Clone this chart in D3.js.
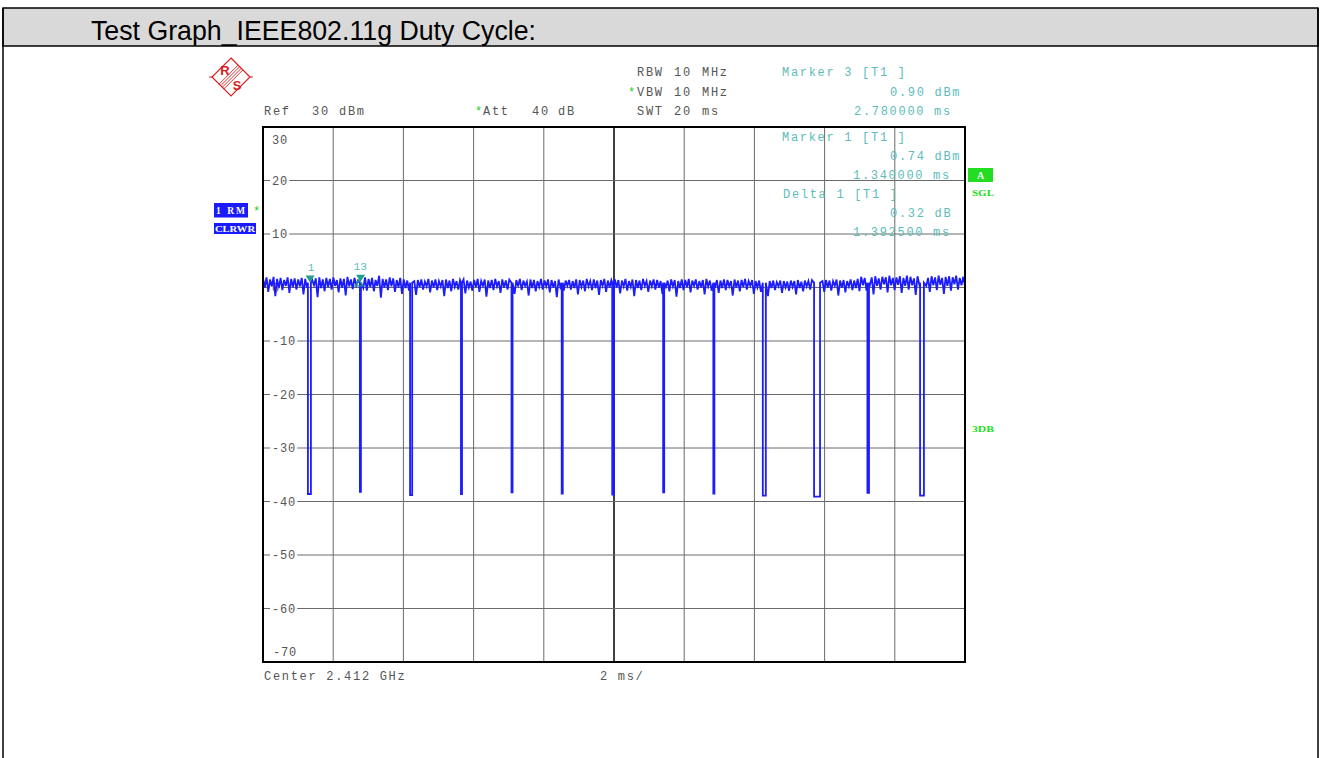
<!DOCTYPE html>
<html>
<head>
<meta charset="utf-8">
<script src="https://d3js.org/d3.v7.min.js"></script>
<style>
body { margin: 0; background: #fff; }
text { white-space: pre; }
</style>
</head>
<body>
<script>
// values (time in ms, level in dBm)
var yGridVals = [20, 10, 0, -10, -20, -30, -40, -50, -60];
var yGridLabels = ["20", "10", "0", "-10", "-20", "-30", "-40", "-50", "-60"];
var xGridVals = [2, 4, 6, 8, 10, 12, 14, 16, 18];

// burst gaps (dips) of the duty cycle trace
var dipStart = [1.28, 2.76, 4.19, 5.64, 7.08, 8.51, 9.95, 11.40, 12.83, 14.24, 15.70, 17.22, 18.72];
var dipWidth = [0.085, 0.03, 0.06, 0.03, 0.03, 0.03, 0.05, 0.03, 0.03, 0.085, 0.17, 0.045, 0.11];
var dipBottom = [-38.6, -38.2, -38.8, -38.6, -38.3, -38.5, -38.7, -38.3, -38.5, -38.9, -39.1, -38.4, -38.9];

// on-burst level, sampled across the 20 ms sweep (20 samples per ms)
var noise = [
  1.7,0.0,1.9,-0.8,1.5,0.2,2.0,-1.6,1.6,-0.1,1.8,-0.5,1.4,0.3,1.9,-1.0,1.6,0.1,1.7,-0.4,
  1.5,0.2,1.8,-1.3,1.6,0.0,2.1,-0.6,1.4,0.4,1.7,-1.8,1.9,-0.1,1.5,-0.7,1.8,0.1,1.6,-0.4,
  1.9,0.3,1.4,-0.9,1.7,0.0,1.6,-1.5,2.0,0.2,1.5,-0.3,1.8,0.4,1.3,-1.1,1.7,-0.1,1.9,-0.6,
  1.6,0.1,1.8,-0.7,1.4,0.3,2.2,-1.9,1.6,0.0,1.5,-0.5,1.9,0.2,1.7,-0.8,1.4,0.0,1.8,-1.2,
  1.5,-0.1,1.3,-0.6,1.6,0.3,1.2,-1.4,1.4,0.1,1.5,-0.4,1.1,0.2,1.6,-0.9,1.3,0.0,1.5,-0.5,
  1.2,0.2,1.4,-1.6,1.5,-0.1,1.3,-0.7,1.6,0.1,1.2,-0.4,1.4,0.3,1.5,-1.1,1.3,0.0,1.1,-0.6,
  1.4,0.1,1.6,-0.8,1.2,0.3,1.5,-1.7,1.3,-0.1,1.4,-0.5,1.6,0.2,1.2,-1.0,1.5,0.0,1.3,-0.4,
  1.5,0.0,1.2,-1.2,1.4,0.2,1.6,-0.5,1.3,0.3,1.1,-1.5,1.5,-0.1,1.4,-0.7,1.2,0.1,1.6,-0.4,
  1.3,0.2,1.5,-0.9,1.4,0.0,1.2,-1.8,1.5,0.1,1.6,-0.6,1.3,0.3,1.4,-0.4,1.2,-0.1,1.5,-1.3,
  1.4,0.1,1.3,-0.7,1.6,0.2,1.2,-0.5,1.5,-0.1,1.3,-1.4,1.4,0.3,1.6,-0.8,1.3,0.0,1.4,-0.4,
  1.5,0.0,1.4,-1.1,1.3,0.2,1.6,-0.6,1.2,0.1,1.5,-1.6,1.4,-0.1,1.3,-0.5,1.6,0.3,1.2,-0.8,
  1.3,0.2,1.5,-0.4,1.4,0.0,1.2,-1.2,1.6,0.1,1.3,-0.7,1.5,0.2,1.4,-1.7,1.2,-0.1,1.5,-0.5,
  1.4,0.1,1.6,-0.9,1.3,0.3,1.5,-0.4,1.2,0.0,1.4,-1.3,1.6,0.2,1.3,-0.6,1.5,0.0,1.4,-1.0,
  1.3,-0.1,1.5,-0.5,1.4,0.2,1.2,-1.5,1.5,0.0,1.3,-0.7,1.4,0.1,1.6,-0.4,1.2,0.3,1.4,-1.2,
  1.2,0.0,1.3,-0.8,1.1,0.1,1.4,-1.6,1.2,-0.1,1.3,-0.5,1.0,0.2,1.3,-1.0,1.2,0.0,1.1,-0.6,
  1.3,0.1,1.2,-1.3,1.4,-0.1,1.1,-0.7,1.3,0.2,1.2,-0.4,1.4,0.0,1.1,-1.4,1.3,0.1,1.2,-0.8,
  1.4,0.0,1.3,-0.6,1.2,0.3,1.5,-1.5,1.3,0.0,1.4,-0.9,1.2,0.2,1.5,-0.5,1.3,-0.1,1.6,-0.7,
  2.0,0.4,1.8,-0.6,2.2,0.5,1.9,-1.3,2.1,0.3,1.7,-0.4,2.0,0.6,1.9,-0.9,2.2,0.4,1.8,-0.5,
  1.9,0.5,2.1,-1.0,1.8,0.3,2.2,-0.4,2.0,0.4,1.7,-1.4,2.1,0.6,1.9,-0.6,2.0,0.3,1.8,-0.8,
  2.1,0.4,1.9,-0.5,2.2,0.5,1.8,-1.2,2.0,0.3,2.1,-0.6,1.9,0.6,2.2,-0.4,1.8,0.4,2.0,0.2
];

// markers
var markerNames = ["1", "3"];
var markerTime = [1.34, 2.78];
var markerLevel = [0.74, 0.90];
var deltaTime = 2.7325;
var deltaLevel = 1.06;

var width = 1322, height = 758;
var svg = d3.select("body").append("svg")
  .attr("width", width)
  .attr("height", height);

var mono = "'Liberation Mono', 'DejaVu Sans Mono', monospace";
var pitch = 8.9;

// monospaced analyzer text, spread to the measured character pitch
function monoText(x, y, str, color) {
  return svg.append("text")
    .attr("x", x).attr("y", y)
    .attr("font-family", mono)
    .attr("font-size", 12)
    .attr("fill", color)
    .attr("textLength", (str.length - 1) * pitch + 7.2)
    .attr("lengthAdjust", "spacing")
    .text(str);
}

// outer table frame + title band
svg.append("rect")
  .attr("x", 3).attr("y", 8).attr("width", 1315).attr("height", 38)
  .attr("fill", "#d9d9d9").attr("stroke", "#000").attr("stroke-width", 1.5);
svg.append("line").attr("x1", 3).attr("x2", 3).attr("y1", 8).attr("y2", height)
  .attr("stroke", "#000").attr("stroke-width", 1.5);
svg.append("line").attr("x1", 1318).attr("x2", 1318).attr("y1", 8).attr("y2", height)
  .attr("stroke", "#000").attr("stroke-width", 1.5);
svg.append("text")
  .attr("x", 91).attr("y", 40)
  .attr("font-family", "'Liberation Sans', Arial, sans-serif")
  .attr("font-size", 27)
  .attr("fill", "#000")
  .attr("textLength", 445)
  .attr("lengthAdjust", "spacingAndGlyphs")
  .text("Test Graph_IEEE802.11g Duty Cycle:");

// scales
var x = d3.scaleLinear().domain([0, 20]).range([263, 965]);
var y = d3.scaleLinear().domain([-70, 30]).range([662, 127]);

// R&S logo
var red = "#d42020";
var logo = svg.append("g").attr("transform", "translate(231,77)").attr("stroke", red).attr("fill", "none");
logo.append("path").attr("d", "M0,-19 L19,0 L0,19 L-19,0 Z").attr("stroke-width", 1.2);
logo.append("path").attr("d", "M-22,0 L-19,0 M19,0 L22,0").attr("stroke-width", 1.2);
[-2.4, -0.8, 0.8, 2.4].forEach(function(o) {
  logo.append("line")
    .attr("x1", 9.5 + o).attr("y1", -9.5 + o)
    .attr("x2", -9.5 + o).attr("y2", 9.5 + o)
    .attr("stroke-width", 0.9);
});
logo.append("text").attr("x", -6).attr("y", -2).attr("text-anchor", "middle")
  .attr("font-family", "'Liberation Sans', sans-serif").attr("font-weight", "bold")
  .attr("font-size", 13).attr("fill", red).attr("stroke", "none").text("R");
logo.append("text").attr("x", 6).attr("y", 13).attr("text-anchor", "middle")
  .attr("font-family", "'Liberation Sans', sans-serif").attr("font-weight", "bold")
  .attr("font-size", 13).attr("fill", red).attr("stroke", "none").text("S");

// settings text
var gray = "#555";
var green = "#22cc22";
var teal = "#5cbcbc";
monoText(637, 76, "RBW", gray);
monoText(674, 76, "10", gray);
monoText(702, 76, "MHz", gray);
monoText(628, 96, "*", green);
monoText(637, 96, "VBW", gray);
monoText(674, 96, "10", gray);
monoText(702, 96, "MHz", gray);
monoText(637, 115, "SWT", gray);
monoText(674, 115, "20", gray);
monoText(702, 115, "ms", gray);
monoText(264, 115, "Ref", gray);
monoText(312, 115, "30", gray);
monoText(339, 115, "dBm", gray);
monoText(475, 115, "*", green);
monoText(483, 115, "Att", gray);
monoText(532, 115, "40", gray);
monoText(558, 115, "dB", gray);
monoText(264, 680, "Center 2.412 GHz", gray);
monoText(600, 680, "2 ms/", gray);

// grid
var grid = svg.append("g").attr("stroke", "#6a6a6a").attr("stroke-width", 1);
grid.selectAll("line.v")
  .data(xGridVals)
  .enter().append("line")
  .attr("class", "v")
  .attr("x1", function(d) { return x(d); })
  .attr("x2", function(d) { return x(d); })
  .attr("y1", y(30)).attr("y2", y(-70))
  .attr("stroke", function(d) { return d === 10 ? "#000" : "#6a6a6a"; })
  .attr("stroke-width", function(d) { return d === 10 ? 1.5 : 1; });

yGridVals.forEach(function(v, i) {
  var lbl = yGridLabels[i];
  var lblEnd = 272 + (lbl.length - 1) * 8 + 7.2;
  grid.append("line").attr("x1", x(0)).attr("x2", 270).attr("y1", y(v)).attr("y2", y(v));
  grid.append("line").attr("x1", lblEnd + 2).attr("x2", x(20)).attr("y1", y(v)).attr("y2", y(v));
  monoText(272, y(v) + 4, lbl, gray).attr("textLength", (lbl.length - 1) * 8 + 7.2);
});
monoText(272, 144, "30", gray).attr("textLength", 15.2);
monoText(273, 656, "-70", gray).attr("textLength", 23.2);

// marker readout
monoText(782, 76, "Marker 3 [T1 ]", teal);
monoText(890, 96, "0.90 dBm", teal);
monoText(854, 115, "2.780000 ms", teal);
monoText(782, 141, "Marker 1 [T1 ]", teal);
monoText(890, 160, "0.74 dBm", teal);
monoText(853, 179, "1.340000 ms", teal);
monoText(783, 198, "Delta 1 [T1 ]", teal);
monoText(890, 217, "0.32 dB", teal);
monoText(853, 236, "1.392500 ms", teal);

// trace: burst level with the gaps cut in
var pts = [];
noise.forEach(function(v, i) {
  var t = i * 20 / (noise.length - 1);
  var inDip = dipStart.some(function(s, k) { return t > s - 0.02 && t < s + dipWidth[k] + 0.02; });
  if (!inDip) pts.push([t, v]);
});
dipStart.forEach(function(s, k) {
  pts.push([s, 0.9]);
  pts.push([s, dipBottom[k] + 1.4]);
  pts.push([s, dipBottom[k]]);
  pts.push([s + dipWidth[k], dipBottom[k]]);
  pts.push([s + dipWidth[k], 0.9]);
});
pts.sort(function(a, b) { return a[0] - b[0]; });

var line = d3.line()
  .x(function(d) { return x(d[0]); })
  .y(function(d) { return y(d[1]); });

svg.append("path")
  .datum(pts)
  .attr("d", line)
  .attr("fill", "none")
  .attr("stroke", "#1c1cff")
  .attr("stroke-width", 1.8);

// plot frame
svg.append("rect")
  .attr("x", x(0)).attr("y", y(30))
  .attr("width", x(20) - x(0)).attr("height", y(-70) - y(30))
  .attr("fill", "none").attr("stroke", "#000").attr("stroke-width", 2);

// markers
markerTime.forEach(function(t, i) {
  var mx = x(t), my = y(markerLevel[i]);
  svg.append("path")
    .attr("d", "M" + (mx - 4.5) + "," + (my - 8) + " L" + (mx + 4.5) + "," + (my - 8) + " L" + mx + "," + (my - 1) + " Z")
    .attr("fill", "#1f9e8e");
  svg.append("text")
    .attr("x", mx + (i === 1 ? 3 : 1)).attr("y", my - 13)
    .attr("text-anchor", "middle")
    .attr("font-family", mono).attr("font-size", 11)
    .attr("fill", teal)
    .text(markerNames[i]);
});
var dx = x(deltaTime), dy = y(deltaLevel);
svg.append("path")
  .attr("d", "M" + dx + "," + (dy - 2) + " L" + (dx + 4) + "," + (dy + 4) + " L" + (dx - 4) + "," + (dy + 4) + " Z")
  .attr("fill", "none").attr("stroke", "#1f9e8e").attr("stroke-width", 1.2);
svg.append("text")
  .attr("x", dx - 2).attr("y", dy - 12)
  .attr("text-anchor", "middle")
  .attr("font-family", mono).attr("font-size", 11)
  .attr("fill", teal)
  .text("1");

// trace / mode badges
var badgeFont = "'Liberation Serif', 'DejaVu Serif', serif";
svg.append("rect").attr("x", 214).attr("y", 203).attr("width", 34).attr("height", 14.5).attr("fill", "#1a1aff");
svg.append("text").attr("x", 216).attr("y", 214).attr("font-family", badgeFont).attr("font-weight", "bold")
  .attr("font-size", 9.5).attr("fill", "#fff").attr("textLength", 29).attr("lengthAdjust", "spacing").text("1 RM");
monoText(253, 215, "*", green);
svg.append("rect").attr("x", 214).attr("y", 223).attr("width", 42).attr("height", 11).attr("fill", "#1a1aff");
svg.append("text").attr("x", 215).attr("y", 232).attr("font-family", badgeFont).attr("font-weight", "bold")
  .attr("font-size", 8.5).attr("fill", "#fff").attr("textLength", 40).attr("lengthAdjust", "spacingAndGlyphs").text("CLRWR");

svg.append("rect").attr("x", 968).attr("y", 168).attr("width", 25).attr("height", 14).attr("fill", "#22dd22");
svg.append("text").attr("x", 980.5).attr("y", 179).attr("text-anchor", "middle").attr("font-family", badgeFont)
  .attr("font-weight", "bold").attr("font-size", 10).attr("fill", "#fff").text("A");
svg.append("text").attr("x", 972).attr("y", 196).attr("font-family", badgeFont).attr("font-weight", "bold")
  .attr("font-size", 8.5).attr("fill", "#22dd22").attr("textLength", 22).attr("lengthAdjust", "spacingAndGlyphs").text("SGL");
svg.append("text").attr("x", 972).attr("y", 432).attr("font-family", badgeFont).attr("font-weight", "bold")
  .attr("font-size", 8.5).attr("fill", "#22dd22").attr("textLength", 22).attr("lengthAdjust", "spacingAndGlyphs").text("3DB");
</script>
</body>
</html>
